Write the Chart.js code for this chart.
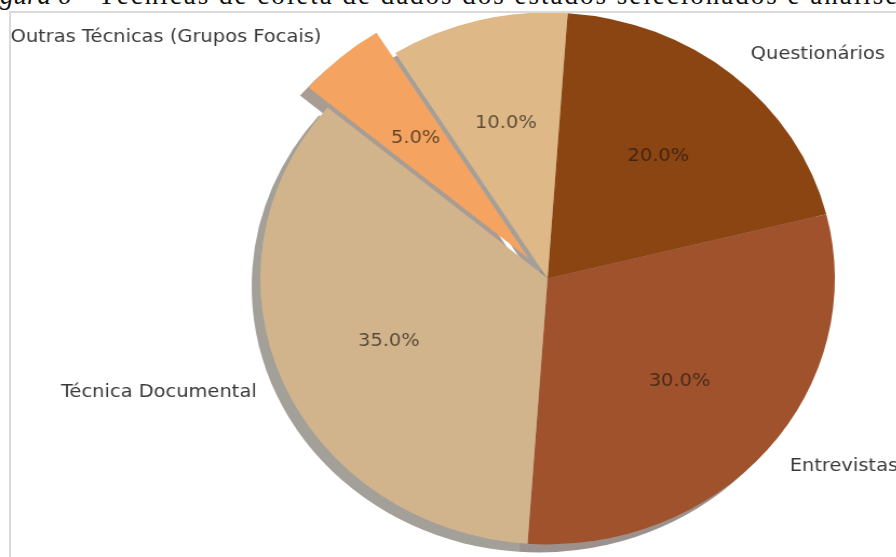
<!DOCTYPE html>
<html>
<head>
<meta charset="utf-8">
<script src="https://cdn.jsdelivr.net/npm/chart.js@4"></script>
<style>
  body { margin: 0; width: 896px; height: 557px; overflow: hidden; position: relative; background: #fff; }
  #caption {
    position: absolute; left: -24px; top: -18px;
    font: 27px "Liberation Serif", serif; line-height: 1; white-space: nowrap; color: #111;
  }
  #caption .resto { letter-spacing: 2px; }
  #frame {
    position: absolute; left: 9px; top: 11px; width: 1000px; height: 700px;
    border-left: 2px solid #dadada; border-top: 2px solid #dadada; overflow: hidden; background: #fff;
  }
  #stretch { position: absolute; left: -11px; top: -13px; transform: scaleX(1.08); transform-origin: 0 0; }
</style>
</head>
<body>
<div id="caption"><i>Figura 6</i> – <span class="resto">Técnicas de coleta de dados dos estados selecionados e análise</span></div>
<div id="frame">
  <div id="stretch"><canvas id="pie" width="830" height="557"></canvas></div>
</div>
<script>
// dados do gráfico
const categorias = ["Questionários", "Entrevistas", "Técnica Documental", "Outras Técnicas (Grupos Focais)", "Observação"];
const valores = [20, 30, 35, 5, 10];
const cores = ["#8B4513", "#A0522D", "#D2B48C", "#F4A460", "#DEB887"];
const explode = [0, 0, 0, 0.1, 0];

const SHADOW_DX = -8;
const SHADOW_DY = 8;
const total = valores.reduce((a, b) => a + b, 0);

// desloca a fatia destacada (como explode do matplotlib)
const explodePlugin = {
  id: "explode",
  afterDatasetUpdate(chart, args) {
    args.meta.data.forEach((arc, i) => {
      const e = explode[i];
      if (!e) return;
      const mid = (arc.startAngle + arc.endAngle) / 2;
      arc.x += Math.cos(mid) * e * arc.outerRadius;
      arc.y += Math.sin(mid) * e * arc.outerRadius;
    });
  },
};

// sombra cinza por baixo de cada fatia
const shadowPlugin = {
  id: "shadow",
  beforeDatasetsDraw(chart) {
    const ctx = chart.ctx;
    const meta = chart.getDatasetMeta(0);
    ctx.save();
    ctx.globalAlpha = 0.48;
    meta.data.forEach((arc, i) => {
      const rgb = Chart.helpers.color(cores[i])._rgb;
      ctx.fillStyle = `rgb(${rgb.r * 0.3},${rgb.g * 0.3},${rgb.b * 0.3})`;
      const x = arc.x + SHADOW_DX;
      const y = arc.y + SHADOW_DY;
      ctx.beginPath();
      ctx.moveTo(x, y);
      ctx.arc(x, y, arc.outerRadius, arc.startAngle, arc.endAngle);
      ctx.closePath();
      ctx.fill();
    });
    ctx.restore();
  },
};

// rótulos externos e percentuais
const labelPlugin = {
  id: "rotulos",
  afterDatasetsDraw(chart) {
    const ctx = chart.ctx;
    const meta = chart.getDatasetMeta(0);
    ctx.save();
    ctx.font = '18px "DejaVu Sans"';
    ctx.textBaseline = "middle";
    meta.data.forEach((arc, i) => {
      const mid = (arc.startAngle + arc.endAngle) / 2;
      const r = arc.outerRadius;
      const cx = Math.cos(mid), cy = Math.sin(mid);
      ctx.fillStyle = "#3a3a3a";
      ctx.textAlign = cx >= 0 ? "left" : "right";
      ctx.fillText(categorias[i], arc.x + cx * r * 1.1, arc.y + cy * r * 1.1);
      ctx.fillStyle = "rgba(30,24,18,0.68)";
      ctx.textAlign = "center";
      const pct = (valores[i] / total * 100).toFixed(1) + "%";
      ctx.fillText(pct, arc.x + cx * r * 0.6, arc.y + cy * r * 0.6);
    });
    ctx.restore();
  },
};

const chart = new Chart(document.getElementById("pie"), {
  type: "pie",
  data: {
    labels: categorias,
    datasets: [{
      data: valores,
      backgroundColor: cores,
      borderWidth: 0,
      radius: 266,
    }],
  },
  options: {
    responsive: false,
    animation: false,
    events: [],
    rotation: 4,
    layout: { padding: { left: 184, right: 0, top: 0, bottom: -1 } },
    plugins: {
      legend: { display: false },
      tooltip: { enabled: false },
    },
  },
  plugins: [explodePlugin, shadowPlugin, labelPlugin],
});
</script>
</body>
</html>
